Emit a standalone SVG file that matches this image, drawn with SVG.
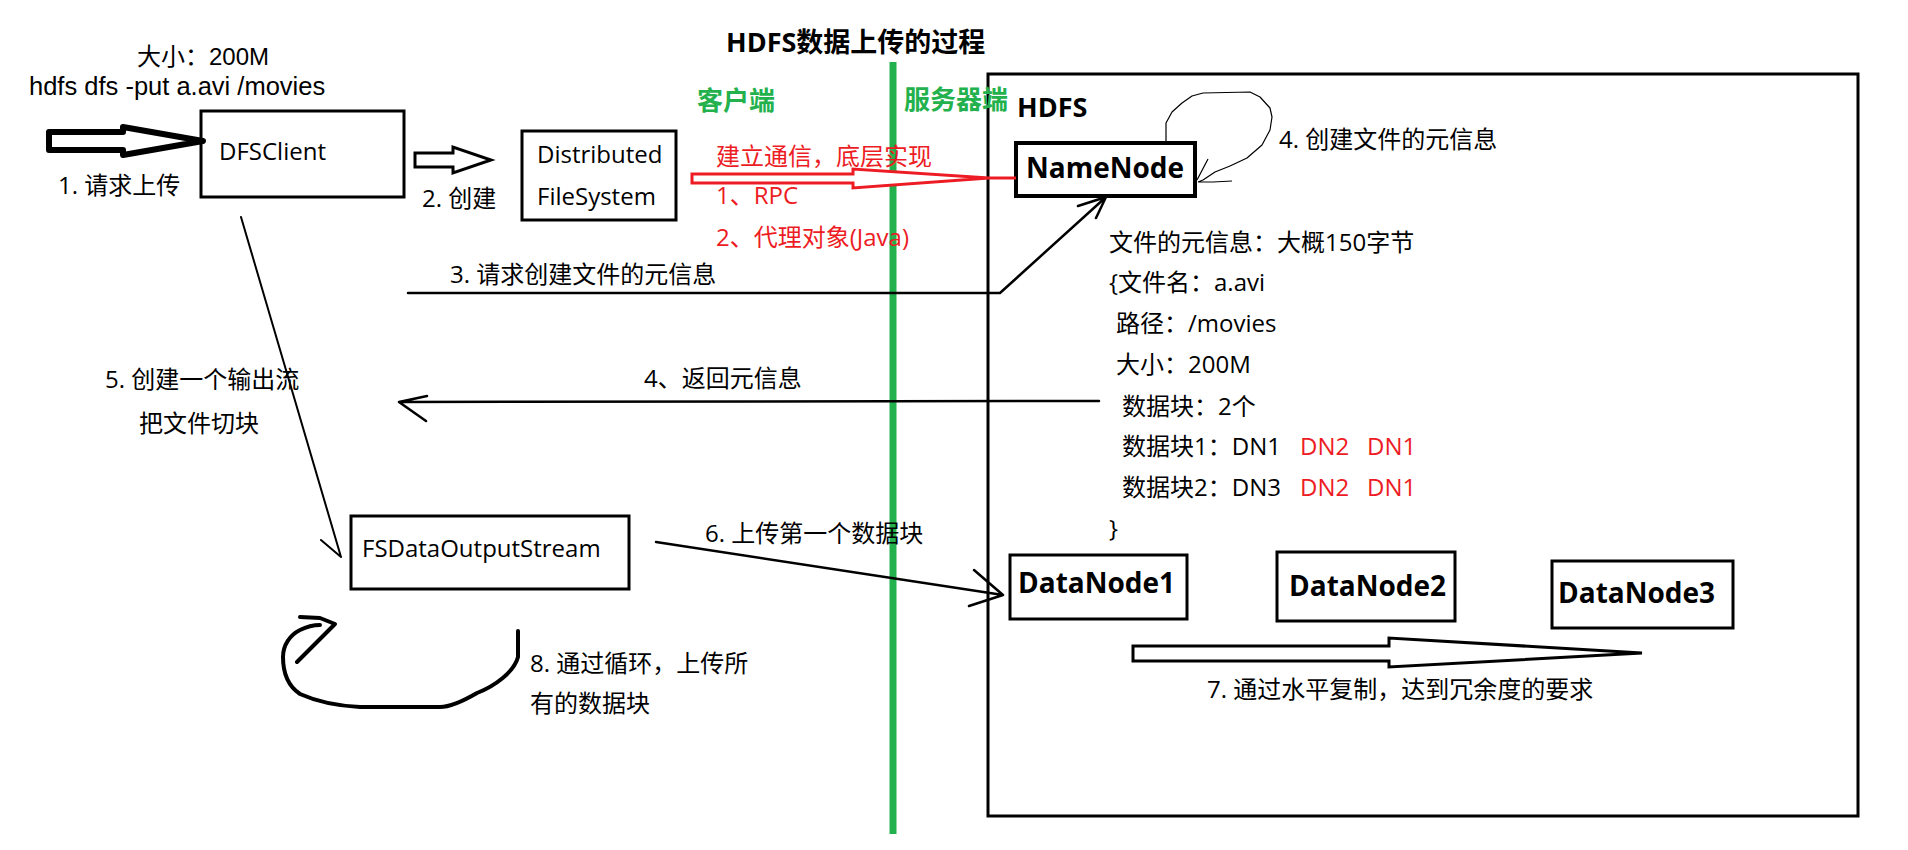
<svg xmlns="http://www.w3.org/2000/svg" width="1908" height="850" viewBox="0 0 1908 850">
<style>
text{font-family:"Open Sans","Noto Sans CJK SC",sans-serif;font-size:24px;fill:#000}
.b{font-weight:bold;font-size:28px}
.g{font-weight:bold;font-size:26px;fill:#22b14c}
.r{fill:#ed1c24}
.c{font-family:"Liberation Sans","Noto Sans CJK SC",sans-serif}
.box{fill:#fff;stroke:#000;stroke-width:3}
.ln{fill:none;stroke:#000;stroke-width:2.5;stroke-linecap:round;stroke-linejoin:round}
</style>
<rect width="1908" height="850" fill="#fff"/>
<text x="726" y="52" class="b" style="font-size:27px">HDFS数据上传的过程</text>
<g id="hdfs-box"><rect x="988" y="74" width="870" height="742" class="box"/><text x="1017" y="117" class="b" style="font-size:27px">HDFS</text></g>
<line id="divider" x1="893" y1="62" x2="893" y2="834" stroke="#22b14c" stroke-width="7"/>
<text x="697" y="110" class="g">客户端</text>
<text x="904" y="109" class="g">服务器端</text>
<g id="cmd"><text x="137" y="65" class="c">大小：200M</text><text x="29" y="95" class="c" style="font-size:25.5px">hdfs dfs -put a.avi /movies</text></g>
<g id="DFSClient"><rect x="201" y="111" width="203" height="86" class="box"/><text x="219" y="160">DFSClient</text></g>
<g id="DistributedFileSystem"><rect x="522" y="131" width="154" height="89" class="box"/><text x="537" y="163">Distributed</text><text x="537" y="205">FileSystem</text></g>
<g id="NameNode"><rect x="1016" y="143" width="179" height="53" class="box" style="stroke-width:4"/><text x="1026" y="178" class="b">NameNode</text></g>
<g id="FSDataOutputStream"><rect x="351" y="516" width="278" height="73" class="box"/><text x="362" y="557">FSDataOutputStream</text></g>
<g id="DataNode1"><rect x="1010" y="555" width="177" height="64" class="box"/><text x="1018" y="593" class="b">DataNode1</text></g>
<g id="DataNode2"><rect x="1277" y="552" width="178" height="69" class="box"/><text x="1289" y="596" class="b">DataNode2</text></g>
<g id="DataNode3"><rect x="1552" y="561" width="181" height="67" class="box"/><text x="1558" y="603" class="b">DataNode3</text></g>
<g id="metadata">
<text x="1109" y="251">文件的元信息：大概150字节</text>
<text x="1109" y="291">{文件名：a.avi</text>
<text x="1116" y="332">路径：/movies</text>
<text x="1116" y="373">大小：200M</text>
<text x="1122" y="415">数据块：2个</text>
<text x="1122" y="455">数据块1：DN1<tspan class="r" x="1300">DN2</tspan><tspan class="r" x="1367">DN1</tspan></text>
<text x="1122" y="496">数据块2：DN3<tspan class="r" x="1300">DN2</tspan><tspan class="r" x="1367">DN1</tspan></text>
<text x="1109" y="537">}</text>
</g>
<g id="connectors">
<polygon points="49,132 123,132 123,127 203,141 123,155 123,150 49,150" fill="#fff" stroke="#000" stroke-width="6" stroke-linejoin="round"/>
<polygon points="415,153 453,153 453,147 491,160 453,173 453,167 415,167" fill="#fff" stroke="#000" stroke-width="3"/>
<polygon points="692,174 853,174 853,169 989,178 853,188 853,183 692,183" fill="#fff" stroke="#ed1c24" stroke-width="3"/>
<line x1="989" y1="178" x2="1016" y2="178" stroke="#ed1c24" stroke-width="3"/>
<path class="ln" d="M408,293 L1000,293 L1106,197 M1078,206 L1106,197 L1096,218"/>
<path class="ln" d="M1099,401 L399,402 M427,396 L399,402 L426,421"/>
<path class="ln" style="stroke-width:2" d="M241,217 L341,557 M321,540 L341,557"/>
<path class="ln" d="M656,542 L1003,595 M974,570 L1003,595 L969,606"/>
<path fill="none" stroke="#000" stroke-width="1.2" stroke-linejoin="round" d="M1166,142 L1166,123 L1172,112 L1182,103 L1192,96 L1203,93 L1250,92 L1260,97 L1270,108 L1272,117 L1270,130 L1262,145 L1247,158 L1230,166 L1215,172 L1203,180 L1198,182 M1208,159 L1197,180 M1232,181 L1213,182 L1198,182"/>
<path fill="none" stroke="#000" stroke-width="4" stroke-linecap="round" stroke-linejoin="round" d="M518,631 L518,657 C514,672 495,686 477,693 C465,700 452,707 440,707 L360,707 C340,706 320,703 300,694 C288,686 283,672 283,657 C283,645 290,635 300,630 C306,627 313,625 320,625 M300,617 L320,618 L335,624 L297,662"/>
<polygon points="1133,646 1389,646 1389,638 1642,653 1389,667 1389,661 1133,661" fill="#fff" stroke="#000" stroke-width="3"/>
</g>
<g id="labels">
<text x="58" y="194">1. 请求上传</text>
<text x="422" y="207">2. 创建</text>
<text x="716" y="165" class="r">建立通信，底层实现</text>
<text x="716" y="204" class="r">1、RPC</text>
<text x="716" y="246" class="r">2、代理对象(Java)</text>
<text x="450" y="283">3. 请求创建文件的元信息</text>
<text x="1279" y="148">4. 创建文件的元信息</text>
<text x="644" y="387">4、返回元信息</text>
<text x="105" y="388">5. 创建一个输出流</text>
<text x="139" y="432">把文件切块</text>
<text x="705" y="542">6. 上传第一个数据块</text>
<text x="1207" y="698">7. 通过水平复制，达到冗余度的要求</text>
<text x="530" y="672">8. 通过循环，上传所</text>
<text x="530" y="712">有的数据块</text>
</g>
</svg>
